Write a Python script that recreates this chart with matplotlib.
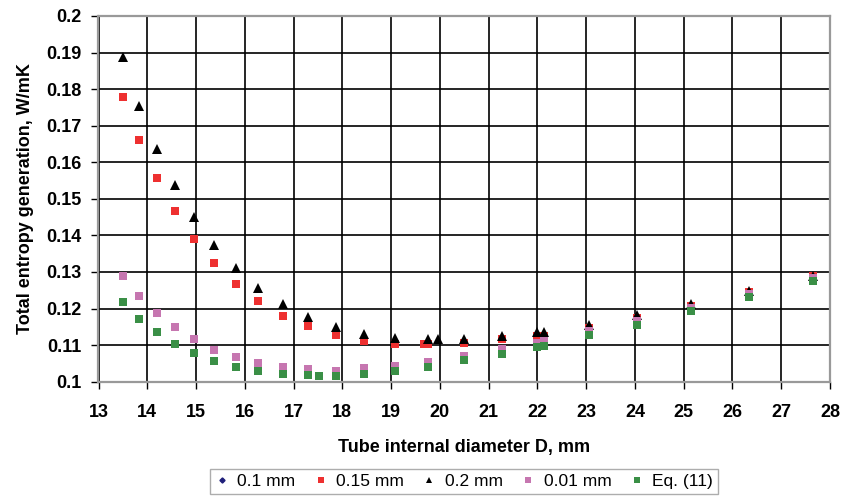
import matplotlib
matplotlib.use('Agg')
import matplotlib.pyplot as plt
from matplotlib.ticker import FuncFormatter, MultipleLocator

# tube internal diameter D (mm) and total entropy generation (W/mK)
d_01 = []
s_01 = []

d_015 = [13.50, 13.84, 14.19, 14.56, 14.96, 15.37, 15.81, 16.28, 16.78, 17.30, 17.86, 18.45,
         19.09, 19.68, 19.76, 20.49, 21.27, 22.00, 22.14, 23.05, 24.05, 25.15, 26.34, 27.65]
s_015 = [0.1778, 0.1660, 0.1557, 0.1466, 0.1389, 0.1324, 0.1266, 0.1220, 0.1181, 0.1151, 0.1129, 0.1112,
         0.1104, 0.1103, 0.1103, 0.1105, 0.1117, 0.1125, 0.1126, 0.1147, 0.1174, 0.1208, 0.1245, 0.1289]

d_02 = [13.50, 13.84, 14.19, 14.56, 14.96, 15.37, 15.81, 16.28, 16.78, 17.30, 17.86, 18.45,
        19.09, 19.76, 19.97, 20.49, 21.27, 22.00, 22.14, 23.05, 24.05, 25.15, 26.34, 27.65]
s_02 = [0.1887, 0.1754, 0.1637, 0.1537, 0.1451, 0.1373, 0.1310, 0.1256, 0.1212, 0.1178, 0.1150, 0.1130,
        0.1120, 0.1117, 0.1117, 0.1117, 0.1124, 0.1135, 0.1137, 0.1156, 0.1182, 0.1213, 0.1247, 0.1290]

d_001 = [13.50, 13.84, 14.19, 14.56, 14.96, 15.37, 15.81, 16.28, 16.78, 17.30, 17.86, 18.45,
         19.09, 19.76, 20.49, 21.27, 22.00, 22.14, 23.05, 24.05, 25.15, 26.34, 27.65]
s_001 = [0.1289, 0.1235, 0.1188, 0.1149, 0.1116, 0.1088, 0.1067, 0.1052, 0.1040, 0.1034, 0.1030, 0.1038,
         0.1043, 0.1054, 0.1070, 0.1089, 0.1107, 0.1112, 0.1138, 0.1167, 0.1202, 0.1240, 0.1283]

d_eq = [13.50, 13.84, 14.19, 14.56, 14.96, 15.37, 15.81, 16.28, 16.78, 17.30, 17.52, 17.86,
        18.45, 19.09, 19.76, 20.49, 21.27, 22.00, 22.14, 23.05, 24.05, 25.15, 26.34, 27.65]
s_eq = [0.1217, 0.1172, 0.1136, 0.1104, 0.1078, 0.1057, 0.1040, 0.1030, 0.1022, 0.1018, 0.1016, 0.1016,
        0.1022, 0.1028, 0.1041, 0.1058, 0.1077, 0.1096, 0.1098, 0.1127, 0.1156, 0.1192, 0.1231, 0.1274]

plt.rcParams['font.family'] = ['Liberation Sans', 'DejaVu Sans']

fig = plt.figure(figsize=(8.45, 5.04), dpi=100)
ax = fig.add_axes([98.5/845, 1 - 381.7/504, (830 - 98.5)/845, (381.7 - 16)/504])

ax.plot(d_01, s_01, linestyle='none', marker='D', ms=4, color='#1f1f7a', label='0.1 mm', clip_on=False, zorder=3)
ax.plot(d_015, s_015, linestyle='none', marker='s', ms=5.6, color='#ee3030', mew=0, label='0.15 mm', clip_on=False, zorder=4)
ax.plot(d_02, s_02, linestyle='none', marker='^', ms=6.6, color='black', mew=0, label='0.2 mm', clip_on=False, zorder=5)
ax.plot(d_001, s_001, linestyle='none', marker='s', ms=6.0, color='#c676b0', mew=0, label='0.01 mm', clip_on=False, zorder=6)
ax.plot(d_eq, s_eq, linestyle='none', marker='s', ms=6.0, color='#3a8f46', mew=0, label='Eq. (11)', clip_on=False, zorder=7)

ax.set_xlim(13, 28)
ax.set_ylim(0.1, 0.2)
ax.xaxis.set_major_locator(MultipleLocator(1))
ax.yaxis.set_major_locator(MultipleLocator(0.01))
ax.yaxis.set_major_formatter(FuncFormatter(lambda v, p: '%g' % round(v, 3)))

ax.grid(True, color='black', linewidth=1.2)
ax.set_axisbelow(True)
for sp in ax.spines.values():
    sp.set_color('#999999')
    sp.set_linewidth(1.6)
    sp.set_zorder(8)

ax.tick_params(axis='both', direction='out', length=5, width=1, color='black', labelsize=13)
ax.tick_params(axis='y', pad=7)
ax.tick_params(axis='x', pad=11)
for lab in ax.get_xticklabels() + ax.get_yticklabels():
    lab.set_fontweight('bold')

ax.set_xlabel('Tube internal diameter D, mm', fontsize=13, fontweight='bold', labelpad=13)
ax.set_ylabel('Total entropy generation, W/mK', fontsize=13, fontweight='bold', labelpad=9)

leg = fig.legend(loc='lower center', bbox_to_anchor=(464/845, 0.002), ncol=5, fontsize=12.5,
                 frameon=True, fancybox=False, edgecolor='#999999', markerscale=0.65,
                 handlelength=0.8, handletextpad=0.5, columnspacing=1.05, borderpad=0.3)
leg.get_frame().set_linewidth(1.0)

plt.savefig('out.png', dpi=100)
